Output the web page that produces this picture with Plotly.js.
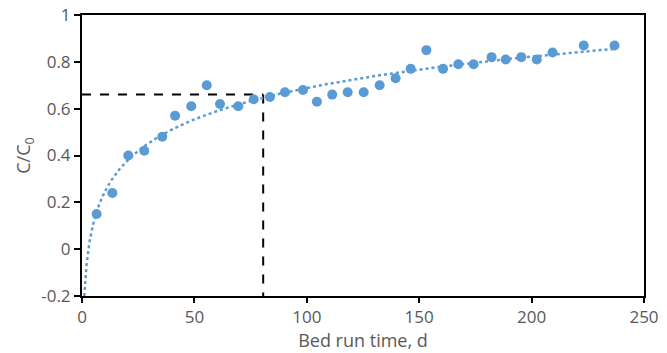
<!DOCTYPE html>
<html><head><meta charset="utf-8">
<script src="https://cdn.plot.ly/plotly-3.0.1.min.js"></script>
<style>html,body{margin:0;padding:0;background:#fff}#chart{width:667px;height:353px}</style>
</head><body><div id="chart"></div>
<script>
// Data
const days = [6.5, 13.5, 20.6, 27.7, 35.7, 41.4, 48.6, 55.5, 61.4, 69.5, 76.4, 83.6, 90.3, 98.3, 104.5, 111.3, 118.2, 125.3, 132.4, 139.5, 146.2, 153.2, 160.6, 167.4, 174.2, 182.2, 188.5, 195.4, 202.3, 209.3, 223.2, 236.9];
const cRatio = [0.15, 0.24, 0.40, 0.42, 0.48, 0.57, 0.61, 0.70, 0.62, 0.61, 0.64, 0.65, 0.67, 0.68, 0.63, 0.66, 0.67, 0.67, 0.70, 0.73, 0.77, 0.85, 0.77, 0.79, 0.79, 0.82, 0.81, 0.82, 0.81, 0.84, 0.87, 0.87];
const refDay = 80.6;
const refC = 0.66;
const xTicks = [0, 50, 100, 150, 200, 250];
const yTickVals = [-0.2, 0, 0.2, 0.4, 0.6, 0.8, 1];
const yTickText = ['-0.2', '0', '0.2', '0.4', '0.6', '0.8', '1'];

// Logarithmic trendline (least squares fit of the data)
const lx = days.map(Math.log);
const n = days.length;
const mx = lx.reduce((a,b)=>a+b,0)/n, my = cRatio.reduce((a,b)=>a+b,0)/n;
let sxy=0, sxx=0;
for (let i=0;i<n;i++){ sxy += (lx[i]-mx)*(cRatio[i]-my); sxx += (lx[i]-mx)**2; }
const slope = sxy/sxx, icpt = my - slope*mx;
const xStart = Math.exp((-0.2 - icpt)/slope);
const trendX = [], trendY = [];
const xEnd = days[n-1];
for (let k=0;k<=400;k++){
  const x = xStart*Math.pow(xEnd/xStart, k/400);
  trendX.push(x); trendY.push(slope*Math.log(x)+icpt);
}

const blue = '#5B9BD5';
const tickFont = {family: 'Open Sans, sans-serif', size: 17, color: '#595959'};
const titleFont = {family: 'Open Sans, sans-serif', size: 18, color: '#595959'};
const traces = [
  {x: [0, refDay], y: [refC, refC], mode: 'lines', line: {color: '#000', width: 2, dash: 'dash'}, hoverinfo: 'skip'},
  {x: [refDay, refDay], y: [refC, -0.2], mode: 'lines', line: {color: '#000', width: 2, dash: 'dash'}, hoverinfo: 'skip'},
  {x: trendX, y: trendY, mode: 'lines', line: {color: blue, width: 2.5, dash: 'dot'}},
  {x: days, y: cRatio, mode: 'markers', marker: {color: blue, size: 10}}
];
const layout = {
  width: 667, height: 353,
  margin: {l: 82, r: 23, t: 15, b: 57},
  showlegend: false,
  paper_bgcolor: '#fff', plot_bgcolor: '#fff',
  font: tickFont,
  xaxis: {range: [0, 250], tickvals: xTicks, showgrid: false, zeroline: false,
    showline: true, mirror: true, linecolor: '#000', linewidth: 2,
    ticks: 'outside', ticklen: 5, tickwidth: 2, tickcolor: '#000', tickfont: tickFont,
    title: {text: 'Bed run time, d', font: titleFont, standoff: 4}},
  yaxis: {range: [-0.2, 1], tickvals: yTickVals, ticktext: yTickText, showgrid: false, zeroline: false,
    showline: true, mirror: true, linecolor: '#000', linewidth: 2,
    ticks: 'outside', ticklen: 6, tickwidth: 2, tickcolor: '#000', tickfont: tickFont,
    title: {text: 'C/C<sub>0</sub>', font: titleFont, standoff: 6}}
};
Plotly.newPlot('chart', traces, layout, {displayModeBar: false, staticPlot: true});
</script></body></html>
